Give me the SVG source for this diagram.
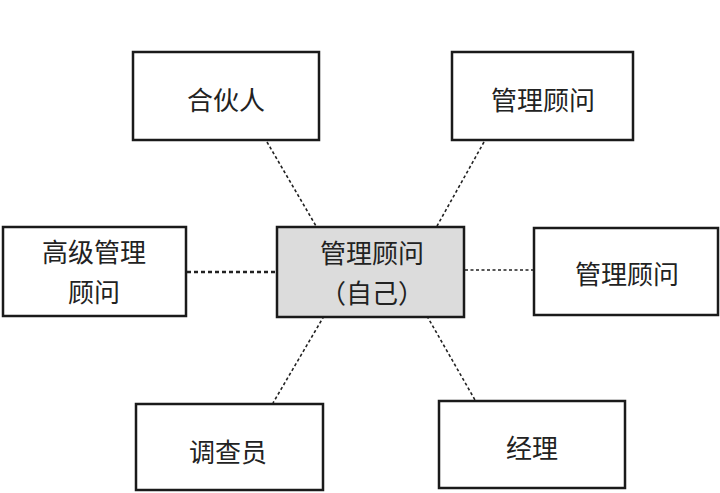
<svg xmlns="http://www.w3.org/2000/svg" width="720" height="493" viewBox="0 0 720 493">
<style>
.box{fill:#fff;stroke:#1a1a1a;stroke-width:2.5}
.center{fill:#dcdcdc;stroke:#1a1a1a;stroke-width:2.5}
.t{font-family:"Noto Sans CJK SC","Noto Sans",sans-serif;font-size:26px;fill:#222;text-anchor:middle;dominant-baseline:central}
.c{fill:none;stroke:#222;stroke-width:1.6;stroke-dasharray:3 2.5}
.cb{fill:none;stroke:#222;stroke-width:2.4;stroke-dasharray:4 3}
</style>
<rect width="720" height="493" fill="#fff"/>
<g id="connectors">
<line class="c" x1="267" y1="142" x2="316" y2="226"/>
<line class="c" x1="484" y1="142" x2="437" y2="226"/>
<line class="cb" x1="187" y1="272" x2="277" y2="272"/>
<line class="c" x1="465" y1="270" x2="534" y2="270"/>
<line class="c" x1="324" y1="316" x2="273" y2="403"/>
<line class="c" x1="427" y1="316" x2="475" y2="400"/>
</g>
<g id="partner">
<rect class="box" x="133" y="52" width="186" height="88"/>
<text class="t" x="226" y="98">合伙人</text>
</g>
<g id="consultant-top">
<rect class="box" x="452" y="52" width="181" height="88"/>
<text class="t" x="543" y="98">管理顾问</text>
</g>
<g id="senior">
<rect class="box" x="3" y="227" width="183" height="89"/>
<text class="t" x="94" y="250">高级管理</text>
<text class="t" x="94" y="290">顾问</text>
</g>
<g id="self">
<rect class="center" x="277" y="227" width="187" height="90"/>
<text class="t" x="372" y="251">管理顾问</text>
<text class="t" x="372" y="291">（自己）</text>
</g>
<g id="consultant-right">
<rect class="box" x="534" y="228" width="184" height="87"/>
<text class="t" x="627" y="272">管理顾问</text>
</g>
<g id="investigator">
<rect class="box" x="136" y="404" width="187" height="86"/>
<text class="t" x="228" y="450">调查员</text>
</g>
<g id="manager">
<rect class="box" x="439" y="401" width="186" height="87"/>
<text class="t" x="532" y="446">经理</text>
</g>
</svg>
